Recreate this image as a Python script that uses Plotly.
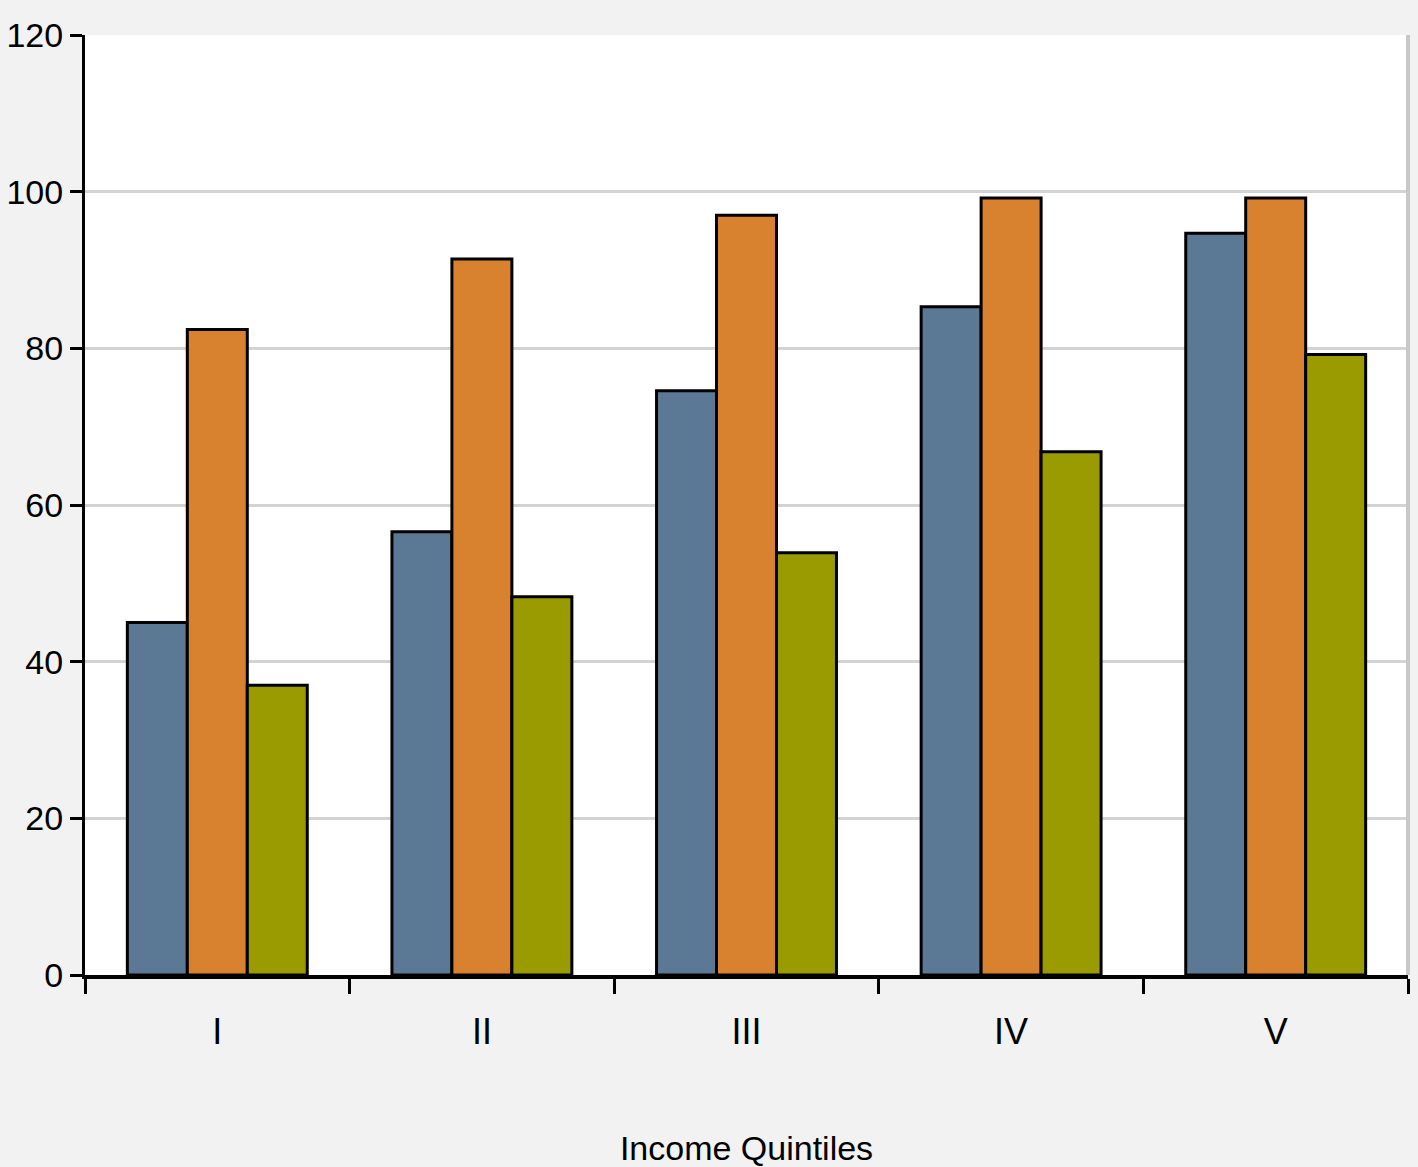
import plotly.graph_objects as go

categories = ["I", "II", "III", "IV", "V"]
series_a = [45.0, 56.6, 74.6, 85.3, 94.7]
series_b = [82.4, 91.4, 97.0, 99.2, 99.2]
series_c = [37.0, 48.3, 53.9, 66.8, 79.2]
y_ticks = [0, 20, 40, 60, 80, 100, 120]

colors = ["#5b7995", "#d8822f", "#999b00"]

fig = go.Figure()
for vals, col in zip([series_a, series_b, series_c], colors):
    fig.add_trace(go.Bar(
        x=categories, y=vals,
        marker=dict(color=col, line=dict(color="black", width=3)),
        showlegend=False,
    ))

font_family = "Liberation Sans, Arial, sans-serif"

fig.update_layout(
    width=1418, height=1167,
    margin=dict(l=85, r=10, t=35, b=192, autoexpand=False),
    paper_bgcolor="#f2f2f2",
    plot_bgcolor="white",
    barmode="group",
    bargap=0.32,
    bargroupgap=0,
    font=dict(family=font_family, color="black"),
    xaxis=dict(
        automargin=False,
        showline=True, linecolor="black", linewidth=4,
        ticks="outside", ticklen=15, tickwidth=3, tickcolor="black",
        tickson="boundaries",
        tickfont=dict(size=36),
        ticklabelstandoff=22,
        showgrid=False,
        title=dict(text="Income Quintiles", font=dict(size=34), standoff=100),
    ),
    yaxis=dict(
        automargin=False,
        range=[0, 120],
        tickvals=y_ticks,
        showline=True, linecolor="black", linewidth=3,
        ticks="outside", ticklen=12, tickwidth=3, tickcolor="black",
        tickfont=dict(size=34),
        ticklabelstandoff=0,
        showgrid=True, gridcolor="#d3d3d3", gridwidth=3,
        zeroline=False,
    ),
    shapes=[dict(type="line", xref="paper", yref="paper", x0=1, x1=1, y0=0, y1=1,
                 line=dict(color="#c8c8c8", width=4))],
)

fig.write_html("out.html", config={"displayModeBar": False},
               post_script="document.body.style.margin='0';")
